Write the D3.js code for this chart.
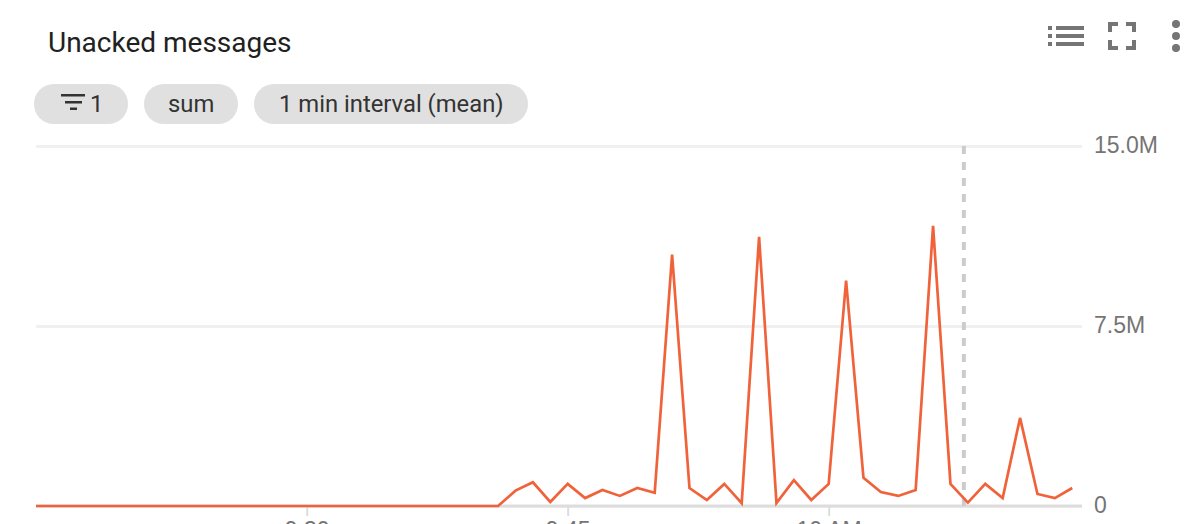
<!DOCTYPE html>
<html>
<head>
<meta charset="utf-8">
<script src="https://cdn.jsdelivr.net/npm/d3@7"></script>
<style>
html, body { margin: 0; padding: 0; background: #fff; overflow: hidden; }
svg { display: block; }
.title { font-family: Roboto, sans-serif; font-size: 28px; fill: #212121; }
.chip-label { font-family: Roboto, sans-serif; font-size: 23.8px; fill: #333; }
.axis text { font-family: "Liberation Sans", sans-serif; font-size: 23px; fill: #757575; }
.axis path { display: none; }
</style>
</head>
<body>
<div id="chart"></div>
<script>
// minutes after 9:00
var minutes = [14, 15, 41, 42, 43, 44, 45, 46, 47, 48, 49, 50, 51, 52, 53, 54, 55, 56, 57, 58, 59,
    60, 61, 62, 63, 64, 65, 66, 67, 68, 69, 70, 71, 72, 73, 74]
// unacked messages, millions
var unacked = [0, 0, 0, 0.64, 0.99, 0.17, 0.92, 0.33, 0.67, 0.42, 0.75, 0.55, 10.47, 0.75, 0.25, 0.92, 0.12, 11.22, 0.12, 1.08,
    0.25, 0.92, 9.39, 1.17, 0.58, 0.42, 0.67, 11.67, 0.92, 0.14, 0.92, 0.33, 3.67, 0.5, 0.33, 0.75]

var yTicks = [0, 7.5, 15]
var yTickLabels = ["0", "7.5M", "15.0M"]
var xTicks = [30, 45, 60]
var xTickLabels = ["9:30", "9:45", "10 AM"]
var chips = [
    { label: "1", x0: 34, x1: 128, textX: 90 },
    { label: "sum", x0: 144, x1: 238, textX: 168 },
    { label: "1 min interval (mean)", x0: 254, x1: 528, textX: 279 }
]

var margin = { left: 36, right: 122, top: 146, bottom: 18 }

var svg = d3.select("#chart")
    .append("svg")
        .attr("width", 1204)
        .attr("height", 524)

// Title
svg.append("text")
    .attr("class", "title")
    .attr("x", 48)
    .attr("y", 52)
    .text("Unacked messages")

// Chips
var chip = svg.selectAll(".chip")
    .data(chips)
    .enter().append("g")
        .attr("class", "chip")

chip.append("rect")
    .attr("x", d => d.x0)
    .attr("y", 84)
    .attr("width", d => d.x1 - d.x0)
    .attr("height", 40)
    .attr("rx", 20)
    .style("fill", "#e0e0e0")

chip.append("text")
    .attr("class", "chip-label")
    .attr("x", d => d.textX)
    .attr("y", 112)
    .text(d => d.label)

// Filter icon
svg.append("path")
    .attr("d", "M61 94h24v2.500h-24zM65 101h17v2.500h-17zM70 107.500h7v2.500h-7z")
    .style("fill", "#333")

// Toolbar icons
var toolbar = svg.append("g").style("fill", "#757575")
toolbar.append("path")
    .attr("d", "M1048 26h4v4h-4zM1056 26h28v4h-28zM1048 34h4v4h-4zM1056 34h28v4h-28zM1048 42h4v4h-4zM1056 42h28v4h-28z")
toolbar.append("path")
    .attr("d", "M1108 22h10v4h-6v6h-4zM1126 22h10v10h-4v-6h-6zM1108 40h4v6h6v4h-10zM1132 40h4v10h-10v-4h6z")
toolbar.selectAll("circle")
    .data([24, 36, 48])
    .enter().append("circle")
        .attr("cx", 1176)
        .attr("cy", d => d)
        .attr("r", 4)

var g = svg.append("g")
    .attr("transform", "translate(" + margin.left + ", " + margin.top + ")")

// 17.4px per minute, the plot starts a little before 9:15
var x = d3.scaleLinear()
    .domain([14.44, 74.56])
    .range([0, 1046])

var y = d3.scaleLinear()
    .domain([0, 15])
    .range([360, 0])

// Y axis and grid
var yAxisCall = d3.axisRight(y)
    .tickValues(yTicks)
    .tickSize(1046)
    .tickPadding(12)
    .tickFormat((d, i) => yTickLabels[i])

var yAxisG = g.append("g")
    .attr("class", "y axis")
    .call(yAxisCall)
yAxisG.selectAll("line")
    .style("stroke", "#f0f0f0")
    .style("stroke-width", 3)
yAxisG.selectAll("text")
    .attr("dy", "0.28em")

// X axis
var xAxisCall = d3.axisBottom(x)
    .tickValues(xTicks)
    .tickSize(10)
    .tickPadding(6)
    .tickFormat((d, i) => xTickLabels[i])

g.append("g")
    .attr("class", "x axis")
    .attr("transform", "translate(0, " + y(0) + ")")
    .call(xAxisCall)
    .selectAll("line")
        .style("stroke", "#dddddd")
        .style("stroke-width", 2)

g.append("line")
    .attr("x1", 0)
    .attr("x2", 1046)
    .attr("y1", y(0))
    .attr("y2", y(0))
    .style("stroke", "#dddddd")
    .style("stroke-width", 3)

// Hover marker
var markerTime = 67.77
g.append("line")
    .attr("x1", x(markerTime))
    .attr("x2", x(markerTime))
    .attr("y1", y(15))
    .attr("y2", y(0))
    .style("stroke", "#cccccc")
    .style("stroke-width", 4)
    .style("stroke-dasharray", "8 8")

// Line
g.append("clipPath")
    .attr("id", "plot-clip")
    .append("rect")
        .attr("x", 0)
        .attr("y", -10)
        .attr("width", 1046)
        .attr("height", 380)

var line = d3.line()
    .x(d => x(d.minute))
    .y(d => y(d.value))

g.append("path")
    .datum(minutes.map((m, i) => ({ minute: m, value: unacked[i] })))
    .attr("clip-path", "url(#plot-clip)")
    .attr("d", line)
    .style("fill", "none")
    .style("stroke", "#f0633a")
    .style("stroke-width", 2.7)
</script>
</body>
</html>
